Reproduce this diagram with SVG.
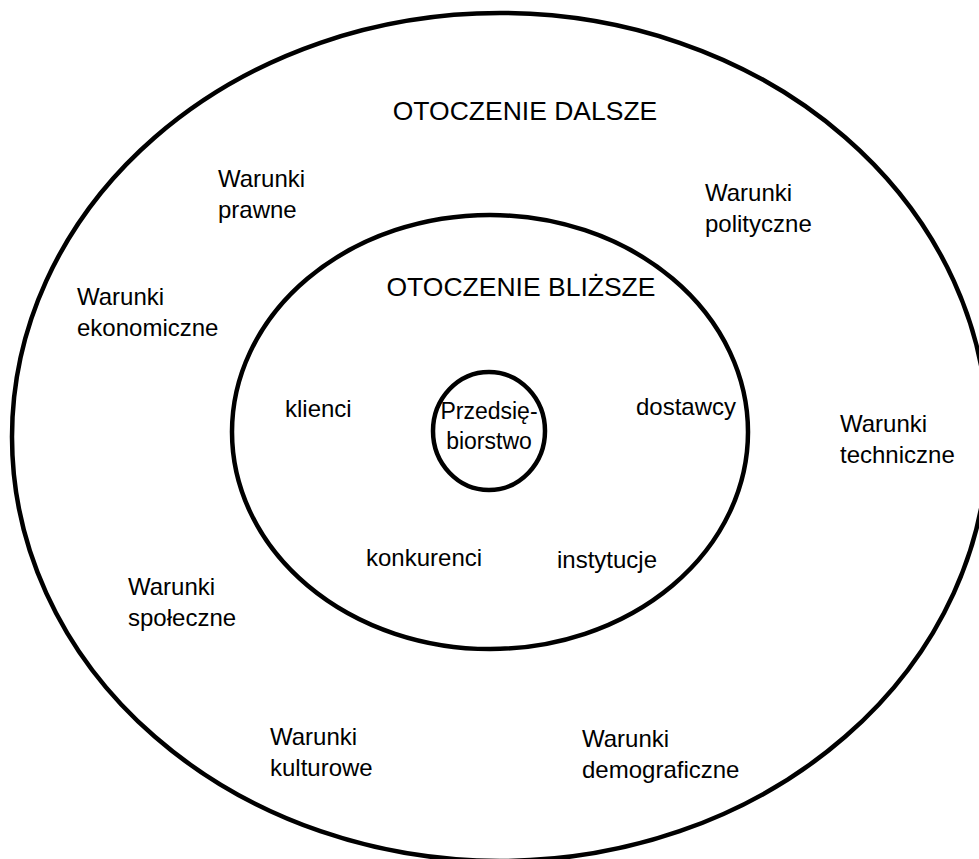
<svg xmlns="http://www.w3.org/2000/svg" width="979" height="859" viewBox="0 0 979 859">
<style>
.ring{fill:none;stroke:#000;stroke-width:4.5}
text{font-family:"Liberation Sans",Arial,sans-serif;font-size:24px;fill:#000}
.title{font-size:26.5px}
.core{font-size:23px}
</style>
<rect width="979" height="859" fill="#fff"/>
<g id="connectors"/>
<g id="outer">
<ellipse class="ring" cx="500" cy="437" rx="488" ry="424"/>
<text class="title" x="525" y="120" text-anchor="middle">OTOCZENIE DALSZE</text>
</g>
<g id="middle">
<ellipse class="ring" cx="490" cy="432" rx="258" ry="217"/>
<text class="title" x="521" y="296" text-anchor="middle">OTOCZENIE BLIŻSZE</text>
</g>
<g id="inner">
<ellipse class="ring" cx="489" cy="431" rx="56" ry="59"/>
<text class="core" x="489" y="419" text-anchor="middle">Przedsię-</text>
<text class="core" x="489" y="449" text-anchor="middle">biorstwo</text>
</g>
<g id="w-prawne"><text x="218" y="187">Warunki</text><text x="218" y="218">prawne</text></g>
<g id="w-polityczne"><text x="705" y="201">Warunki</text><text x="705" y="232">polityczne</text></g>
<g id="w-ekonomiczne"><text x="77" y="305">Warunki</text><text x="77" y="336">ekonomiczne</text></g>
<g id="w-techniczne"><text x="840" y="432">Warunki</text><text x="840" y="463">techniczne</text></g>
<g id="w-spoleczne"><text x="128" y="595">Warunki</text><text x="128" y="626">społeczne</text></g>
<g id="w-kulturowe"><text x="270" y="745">Warunki</text><text x="270" y="776">kulturowe</text></g>
<g id="w-demograficzne"><text x="582" y="747">Warunki</text><text x="582" y="778">demograficzne</text></g>
<g id="klienci"><text x="285" y="417">klienci</text></g>
<g id="dostawcy"><text x="636" y="415">dostawcy</text></g>
<g id="konkurenci"><text x="366" y="566">konkurenci</text></g>
<g id="instytucje"><text x="557" y="568">instytucje</text></g>
</svg>
